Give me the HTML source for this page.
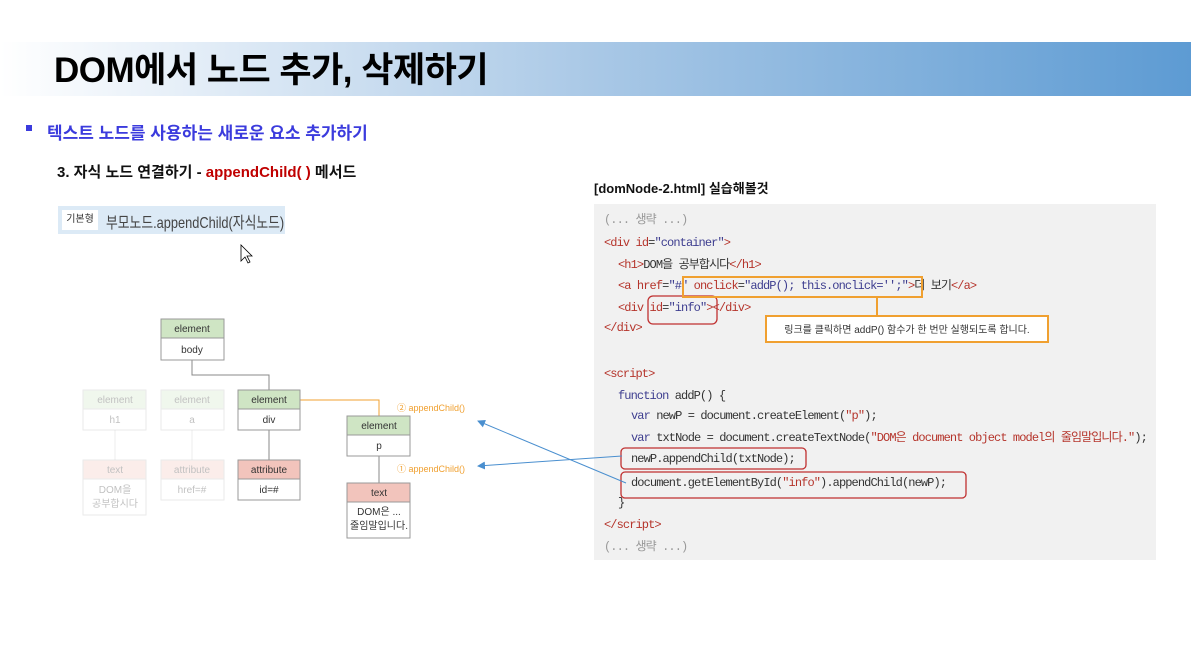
<!DOCTYPE html>
<html><head><meta charset="utf-8"><style>
body{margin:0;width:1191px;height:669px;background:#fff;position:relative;overflow:hidden;font-family:"Liberation Sans","Noto Sans CJK KR",sans-serif}
.a{position:absolute;white-space:nowrap}
.code{position:absolute;left:594px;top:204px;width:562px;height:356px;background:#f1f1f1}
.cl{position:absolute;font-family:"Liberation Mono","Noto Sans CJK KR",monospace;font-size:12px;line-height:16px;height:16px;letter-spacing:-0.9px;color:#333;white-space:nowrap}
.t{color:#b5342b}.s{color:#3d3d8f}.g{color:#999}.k{color:#3d3d8f}.r{color:#b5342b}
</style></head><body>
<div class="a" style="left:0;top:42px;width:1191px;height:54px;background:linear-gradient(90deg,#fff 0%,#e6eff8 15%,#a9c8e6 50%,#5d9bd3 100%)"></div>
<div class="a" style="left:54px;top:46px;font-size:35px;line-height:50px;font-weight:bold;color:#000;letter-spacing:-0.5px">DOM에서 노드 추가, 삭제하기</div>
<div class="a" style="left:26px;top:125px;width:6px;height:6px;background:#3b3bdd"></div>
<div class="a" style="left:47px;top:119px;font-size:17px;font-weight:bold;color:#3b3bdd">텍스트 노드를 사용하는 새로운 요소 추가하기</div>
<div class="a" style="left:57px;top:161px;font-size:15px;font-weight:bold;color:#111">3. 자식 노드 연결하기 - <span style="color:#c00000">appendChild( )</span> 메서드</div>
<div class="a" style="left:58px;top:206px;width:227px;height:28px;background:#dceaf6"></div>
<div class="a" style="left:62px;top:210px;width:36px;height:20px;background:#fff;font-size:10px;line-height:20px;text-align:center;color:#333">기본형</div>
<div class="a" style="left:106px;top:209px;font-size:16px;color:#444;transform:scaleX(0.8);transform-origin:left top">부모노드.appendChild(자식노드)</div>
<div class="a" style="left:594px;top:178px;font-size:13px;font-weight:bold;color:#111">[domNode-2.html] 실습해볼것</div>

<div class="code">
<div class="cl g" style="left:10px;top:8px">(... 생략 ...)</div>
<div class="cl" style="left:10px;top:31px"><span class="t">&lt;div</span> <span class="r">id</span>=<span class="s">"container"</span><span class="t">&gt;</span></div>
<div class="cl" style="left:24px;top:53px"><span class="t">&lt;h1&gt;</span>DOM을 공부합시다<span class="t">&lt;/h1&gt;</span></div>
<div class="cl" style="left:24px;top:74px"><span class="t">&lt;a</span> <span class="r">href</span>=<span class="s">"#"</span> <span class="r">onclick</span>=<span class="s">"addP(); this.onclick='';"</span><span class="t">&gt;</span>더 보기<span class="t">&lt;/a&gt;</span></div>
<div class="cl" style="left:24px;top:96px"><span class="t">&lt;div</span> <span class="r">id</span>=<span class="s">"info"</span><span class="t">&gt;&lt;/div&gt;</span></div>
<div class="cl" style="left:10px;top:116px"><span class="t">&lt;/div&gt;</span></div>
<div class="cl" style="left:10px;top:162px"><span class="t">&lt;script&gt;</span></div>
<div class="cl" style="left:24px;top:184px"><span class="k">function</span> addP() {</div>
<div class="cl" style="left:37px;top:204px"><span class="k">var</span> newP = document.createElement(<span class="r">"p"</span>);</div>
<div class="cl" style="left:37px;top:226px"><span class="k">var</span> txtNode = document.createTextNode(<span class="r">"DOM은 document object model의 줄임말입니다."</span>);</div>
<div class="cl" style="left:37px;top:247px">newP.appendChild(txtNode);</div>
<div class="cl" style="left:37px;top:271px">document.getElementById(<span class="r">"info"</span>).appendChild(newP);</div>
<div class="cl" style="left:24px;top:291px">}</div>
<div class="cl" style="left:10px;top:313px"><span class="t">&lt;/script&gt;</span></div>
<div class="cl g" style="left:10px;top:335px">(... 생략 ...)</div>
</div>

<svg class="a" style="left:0;top:0" width="1191" height="669">
<defs><marker id="ar" markerWidth="8" markerHeight="8" refX="7" refY="4" orient="auto"><path d="M0,0L8,4L0,8z" fill="#4a8fcf"/></marker></defs>
<g fill="none">
<rect x="648" y="296" width="69" height="28" rx="5" stroke="#c03030" stroke-width="1.3"/>
<rect x="683" y="277" width="239" height="20" stroke="#f0a030" stroke-width="2"/>
<line x1="877" y1="297" x2="877" y2="316" stroke="#f0a030" stroke-width="2"/>
<rect x="766" y="316" width="282" height="26" fill="#fff" stroke="#f0a030" stroke-width="2"/>
<rect x="621" y="448" width="185" height="21" rx="4" stroke="#c03030" stroke-width="1.3"/>
<rect x="621" y="472" width="345" height="26" rx="4" stroke="#c03030" stroke-width="1.3"/>
<line x1="622" y1="456" x2="478" y2="466" stroke="#4a8fcf" marker-end="url(#ar)"/>
<line x1="626" y1="483" x2="478" y2="421" stroke="#4a8fcf" marker-end="url(#ar)"/>
<polyline points="192,360 192,375 269,375 269,390" stroke="#888"/>
<polyline points="300,400 379,400 379,416" stroke="#f0a030"/>
<line x1="269" y1="430" x2="269" y2="460" stroke="#888"/>
<line x1="379" y1="456" x2="379" y2="483" stroke="#888"/>
<line x1="115" y1="430" x2="115" y2="460" stroke="#eee"/>
<line x1="192" y1="430" x2="192" y2="460" stroke="#eee"/>
</g>
<g font-family="Liberation Sans,Noto Sans CJK KR,sans-serif" font-size="10" text-anchor="middle">
<g stroke-width="1">
<rect x="161" y="319" width="63" height="19" fill="#cfe5c4" stroke="#999"/><rect x="161" y="338" width="63" height="22" fill="#fff" stroke="#999"/>
<text x="192" y="332" fill="#333">element</text><text x="192" y="353" fill="#333">body</text>
<rect x="238" y="390" width="62" height="19" fill="#cfe5c4" stroke="#999"/><rect x="238" y="409" width="62" height="21" fill="#fff" stroke="#999"/>
<text x="269" y="403" fill="#333">element</text><text x="269" y="423" fill="#333">div</text>
<rect x="238" y="460" width="62" height="19" fill="#f2c4bc" stroke="#999"/><rect x="238" y="479" width="62" height="21" fill="#fff" stroke="#999"/>
<text x="269" y="473" fill="#333">attribute</text><text x="269" y="493" fill="#333">id=#</text>
<rect x="347" y="416" width="63" height="19" fill="#cfe5c4" stroke="#999"/><rect x="347" y="435" width="63" height="21" fill="#fff" stroke="#999"/>
<text x="379" y="429" fill="#333">element</text><text x="379" y="449" fill="#333">p</text>
<rect x="347" y="483" width="63" height="19" fill="#f2c4bc" stroke="#999"/><rect x="347" y="502" width="63" height="36" fill="#fff" stroke="#999"/>
<text x="379" y="496" fill="#333">text</text><text x="379" y="515" fill="#333">DOM은 ...</text><text x="379" y="529" fill="#333">줄임말입니다.</text>
<g opacity="0.3">
<rect x="83" y="390" width="63" height="19" fill="#cfe5c4" stroke="#bbb"/><rect x="83" y="409" width="63" height="21" fill="#fff" stroke="#bbb"/>
<text x="115" y="403" fill="#333">element</text><text x="115" y="423" fill="#333">h1</text>
<rect x="161" y="390" width="63" height="19" fill="#cfe5c4" stroke="#bbb"/><rect x="161" y="409" width="63" height="21" fill="#fff" stroke="#bbb"/>
<text x="192" y="403" fill="#333">element</text><text x="192" y="423" fill="#333">a</text>
<rect x="83" y="460" width="63" height="19" fill="#f2c4bc" stroke="#bbb"/><rect x="83" y="479" width="63" height="36" fill="#fff" stroke="#bbb"/>
<text x="115" y="473" fill="#333">text</text><text x="115" y="493" fill="#333">DOM을</text><text x="115" y="507" fill="#333">공부합시다</text>
<rect x="161" y="460" width="63" height="19" fill="#f2c4bc" stroke="#bbb"/><rect x="161" y="479" width="63" height="21" fill="#fff" stroke="#bbb"/>
<text x="192" y="473" fill="#333">attribute</text><text x="192" y="493" fill="#333">href=#</text>
</g></g>
<text x="397" y="411" text-anchor="start" fill="#f0a030" font-size="9">② appendChild()</text>
<text x="397" y="472" text-anchor="start" fill="#f0a030" font-size="9">① appendChild()</text>
<text x="907" y="333" fill="#333" font-size="10">링크를 클릭하면 addP() 함수가 한 번만 실행되도록 합니다.</text>
</g>
<path d="M241,245 L241,261 L245,257 L248,263 L250,262 L247,256 L252,256 Z" fill="#fff" stroke="#000" stroke-width="0.8"/>
</svg>
</body></html>
